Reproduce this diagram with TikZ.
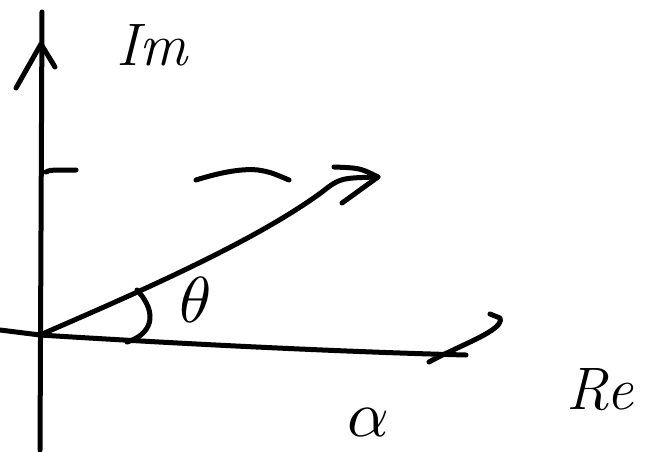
\documentclass[tikz,border=0pt]{standalone}
\begin{document}
\begin{tikzpicture}[x=1pt,y=-1pt,
  pen/.style={line width=5pt,line cap=round,line join=round,black},
  lbl/.style={inner sep=0pt,font=\fontsize{60}{60}\selectfont},
  glbl/.style={inner sep=0pt,scale=6.5}]
\useasboundingbox[fill=white] (0,0) rectangle (651,451);
% vertical axis
\coordinate (vbot) at (40,450);
\coordinate (vtop) at (42,12);
\draw[pen] (vbot) -- (vtop);
\coordinate (vh) at (41,44);
\coordinate (vl) at (16,88);
\coordinate (vr) at (55,67);
\draw[pen] (vl) -- (vh) -- (vr);
% horizontal axis
\coordinate (hl) at (0,330);
\coordinate (o) at (40,335);
\coordinate (hr) at (466,355);
\draw[pen] (hl) -- (o) .. controls (200,345) and (350,352) .. (hr);
\coordinate (ha) at (429,362);
\coordinate (hb) at (500,318);
\coordinate (hc) at (490,314);
\draw[pen] (ha) .. controls (460,345) and (505,330) .. (hb) -- (hc);
% vector
\coordinate (vend) at (378,177);
\draw[pen] (o) .. controls (120,300) and (250,245) .. (322,192) .. controls (340,178) .. (vend);
\coordinate (at) at (334,167);
\coordinate (ab) at (342,203);
\draw[pen] (at) .. controls (360,168) .. (vend) -- (ab);
% angle arc
\coordinate (arc1) at (137,290);
\coordinate (arc2) at (127,342);
\draw[pen] (arc1) .. controls (160,315) and (150,335) .. (arc2);
% tick on vertical axis
\coordinate (t1) at (46,172);
\coordinate (t2) at (76,170);
\draw[pen] (t1) .. controls (50,170) .. (t2);
% dash
\coordinate (d1) at (196,180);
\coordinate (dm) at (258,170);
\coordinate (d2) at (289,180);
\draw[pen] (d1) .. controls (215,174) and (240,168) .. (dm) .. controls (270,172) .. (d2);
% labels
\node[lbl] (im) at (152,45) {\itshape Im};
\node[glbl] (theta) at (196,300) {$\theta$};
\node[glbl] (alpha) at (368,422) {$\alpha$};
\node[lbl] (re) at (600,390) {\itshape Re};
\end{tikzpicture}
\end{document}
